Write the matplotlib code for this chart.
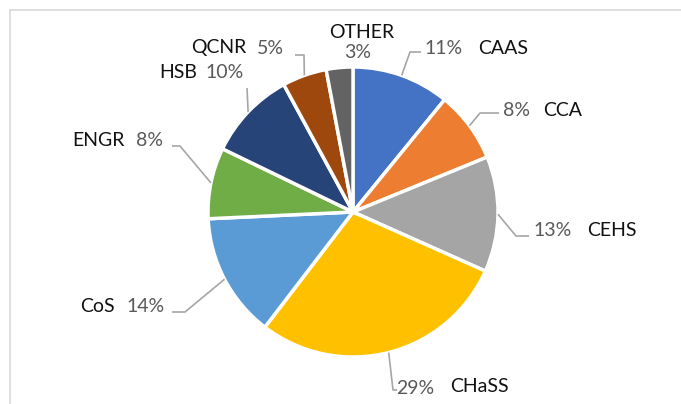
import numpy as np
import matplotlib
matplotlib.use("Agg")
import matplotlib.pyplot as plt

# ---- data ----
categories = ["CAAS", "CCA", "CEHS", "CHaSS", "CoS", "ENGR", "HSB", "QCNR", "OTHER"]
values = [11, 8, 13, 29, 14, 8, 10, 5, 3]
colors = ["#4472C4", "#ED7D31", "#A5A5A5", "#FFC000", "#5B9BD5",
          "#70AD47", "#264478", "#9E480E", "#636363"]

# ---- layout (pixel coords, origin top-left) ----
W, H = 681, 404
CX, CY, R = 353, 212, 145

# label layout: (name_x, pct_x, y)
label_pos = {
    "CAAS":  (478, 424, 48),
    "CCA":   (543, 503, 110),
    "CEHS":  (587, 533, 231),
    "CHaSS": (450, 396, 386),
    "CoS":   (80, 126, 306),
    "ENGR":  (72, 136, 140),
    "HSB":   (159, 205, 73),
    "QCNR":  (191, 257, 48),
}
# leader elbow / end points (pixel)
leaders = {
    "CAAS":  [(410, 52), (421, 52)],
    "CCA":   [(480, 113), (499, 113)],
    "CEHS":  [(516, 236), (529, 236)],
    "CHaSS": [(393, 390), (397, 390)],
    "CoS":   [(185, 312), (172, 312)],
    "ENGR":  [(180, 146), (172, 146)],
    "HSB":   [(247, 88)],
    "QCNR":  [(304, 55), (295, 55)],
}

plt.rcParams["font.family"] = ["Lato", "DejaVu Sans"]
fig = plt.figure(figsize=(W / 100, H / 100), dpi=100)
ax = fig.add_axes([0, 0, 1, 1])


def Y(py):
    return H - py


wedges, _ = ax.pie(values, colors=colors, startangle=90, counterclock=False,
                   center=(CX, Y(CY)), radius=R, frame=False,
                   wedgeprops=dict(edgecolor="white", linewidth=2.5))
ax.set_xlim(0, W)
ax.set_ylim(0, H)
ax.set_aspect("equal")
ax.axis("off")

# frame
ax.plot([10, W], [Y(10), Y(10)], color="#D9D9D9", lw=1.2)
ax.plot([10, 10], [Y(10), 0], color="#D9D9D9", lw=1.2)

total = sum(values)
cum = np.cumsum([0] + values)
NAME_C = "#111111"
PCT_C = "#595959"
FS = 14

for i, cat in enumerate(categories):
    pct = f"{values[i]}%"
    mid = (cum[i] + cum[i + 1]) / 2 / total * 2 * np.pi
    ex = CX + R * np.sin(mid)
    ey = CY - R * np.cos(mid)
    if cat == "OTHER":
        ax.text(362, Y(33), cat, ha="center", va="center", fontsize=FS, color=NAME_C)
        ax.text(358, Y(53), pct, ha="center", va="center", fontsize=FS, color=PCT_C)
        continue
    nx, px, ly = label_pos[cat]
    ax.text(nx, Y(ly), cat, ha="left", va="center", fontsize=FS, color=NAME_C)
    ax.text(px, Y(ly + (2 if cat == "CHaSS" else 0)), pct, ha="left", va="center",
            fontsize=FS, color=PCT_C)
    pts = [(ex, ey)] + leaders[cat]
    ax.plot([p[0] for p in pts], [Y(p[1]) for p in pts], color="#A6A6A6", lw=1.2,
            solid_capstyle="butt")

fig.savefig("out.png", dpi=100)
